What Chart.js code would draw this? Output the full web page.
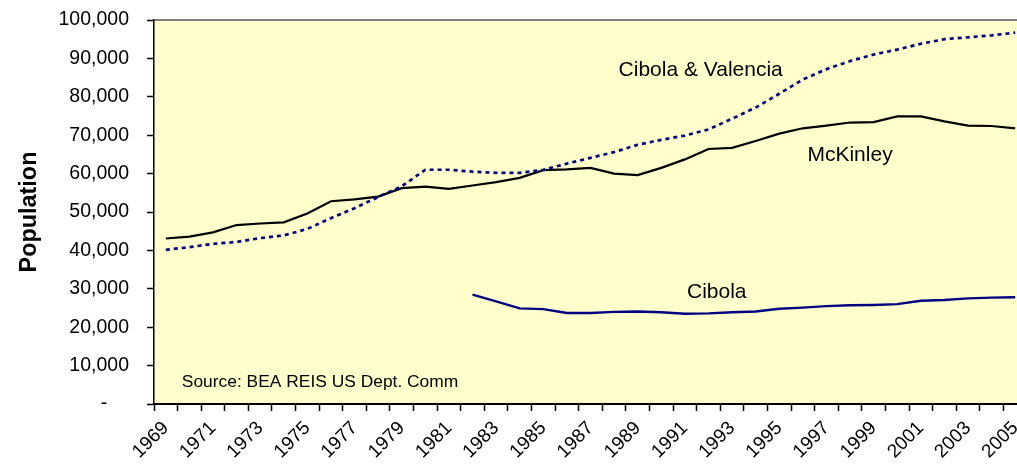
<!DOCTYPE html>
<html lang="en">
<head>
    <meta charset="UTF-8">
    <title>Population</title>
    <script src="https://cdn.jsdelivr.net/npm/chart.js"></script>
    <style>
        * {
            margin: 0;
            padding: 0;
            box-sizing: border-box;
        }
        body {
            background-color: #ffffff;
            overflow: hidden;
            width: 1017px;
            height: 474px;
        }
        .chart-container {
            position: relative;
            width: 1032px;
            height: 474px;
        }
    </style>
</head>
<body>
    <div class="chart-container">
        <canvas id="popChart"></canvas>
    </div>

    <script>
        const years = ['1969', '1970', '1971', '1972', '1973', '1974', '1975', '1976', '1977', '1978',
            '1979', '1980', '1981', '1982', '1983', '1984', '1985', '1986', '1987', '1988',
            '1989', '1990', '1991', '1992', '1993', '1994', '1995', '1996', '1997', '1998',
            '1999', '2000', '2001', '2002', '2003', '2004', '2005'];

        const mckinley = [43100, 43600, 44700, 46600, 47000, 47300, 49600, 52800, 53300, 54000,
            56200, 56600, 56000, 56900, 57800, 58900, 60900, 61100, 61500, 60000,
            59600, 61500, 63700, 66400, 66700, 68500, 70400, 71800, 72500, 73300,
            73400, 74900, 74900, 73600, 72500, 72400, 71800];

        const cibolaValencia = [40150, 40850, 41700, 42200, 43200, 43900, 45600, 48400, 51000, 53900,
            56700, 61000, 61000, 60500, 60200, 60200, 61000, 62600, 64100, 65600,
            67500, 68800, 69900, 71500, 74300, 77200, 80800, 84500, 87200, 89300,
            91000, 92300, 93800, 95000, 95500, 96000, 96700];

        // Cibola only reported from 1982 on
        const cibola = [null, null, null, null, null, null, null, null, null, null,
            null, null, null, 28500, 26700, 24900, 24700, 23700, 23700, 24000,
            24100, 23900, 23500, 23600, 23900, 24100, 24800, 25100, 25500, 25700,
            25800, 26000, 26900, 27100, 27500, 27700, 27800];

        const yTicks = [0, 10000, 20000, 30000, 40000, 50000, 60000, 70000, 80000, 90000, 100000];

        // text labels placed in data coordinates (category index, value)
        const notes = [
            { text: 'Cibola & Valencia', at: [22.67, 86900], align: 'center', size: 21 },
            { text: 'McKinley', at: [29.0, 64800], align: 'center', size: 21 },
            { text: 'Cibola', at: [23.35, 29200], align: 'center', size: 21 },
            { text: 'Source: BEA REIS US Dept. Comm', at: [0.68, 5600], align: 'left', size: 17.4 }
        ];

        const FONT = 'Arial, "Liberation Sans", sans-serif';

        const plotArea = {
            id: 'plotArea',
            beforeDraw(chart) {
                const { ctx, chartArea: { left, top, right, bottom } } = chart;
                ctx.save();
                ctx.fillStyle = '#ffffcc';
                ctx.fillRect(left, top, right - left, bottom - top);
                ctx.strokeStyle = '#808080';
                ctx.lineWidth = 2;
                ctx.beginPath();
                ctx.moveTo(left, top);
                ctx.lineTo(right, top);
                ctx.stroke();
                ctx.restore();
            }
        };

        const noteText = {
            id: 'noteText',
            afterDatasetsDraw(chart) {
                const ctx = chart.ctx;
                const xs = chart.scales.x;
                const ys = chart.scales.y;
                ctx.save();
                ctx.fillStyle = '#000000';
                ctx.textBaseline = 'middle';
                notes.forEach(n => {
                    ctx.font = n.size + 'px ' + FONT;
                    ctx.textAlign = n.align;
                    ctx.fillText(n.text, xs.getPixelForValue(n.at[0]), ys.getPixelForValue(n.at[1]));
                });
                ctx.restore();
            }
        };

        const ctx = document.getElementById('popChart').getContext('2d');
        const popChart = new Chart(ctx, {
            type: 'line',
            data: {
                labels: years,
                datasets: [
                    {
                        label: 'Cibola & Valencia',
                        data: cibolaValencia,
                        borderColor: '#000080',
                        borderWidth: 2.7,
                        borderDash: [4, 4],
                        pointRadius: 0,
                        fill: false,
                        tension: 0
                    },
                    {
                        label: 'McKinley',
                        data: mckinley,
                        borderColor: '#000000',
                        borderWidth: 2.2,
                        pointRadius: 0,
                        fill: false,
                        tension: 0
                    },
                    {
                        label: 'Cibola',
                        data: cibola,
                        borderColor: '#000080',
                        borderWidth: 2.4,
                        pointRadius: 0,
                        fill: false,
                        tension: 0
                    }
                ]
            },
            options: {
                responsive: true,
                maintainAspectRatio: false,
                animation: false,
                layout: {
                    padding: { top: 20, right: 5, bottom: 0, left: 0 }
                },
                scales: {
                    x: {
                        type: 'category',
                        offset: true,
                        grid: {
                            offset: true,
                            drawOnChartArea: false,
                            drawTicks: true,
                            tickLength: 7,
                            tickColor: '#000000',
                            tickWidth: 1.5
                        },
                        border: { color: '#000000', width: 2 },
                        ticks: {
                            autoSkip: false,
                            minRotation: 45,
                            maxRotation: 45,
                            padding: 6,
                            color: '#000000',
                            font: { family: FONT, size: 19 },
                            callback: function(value, index) {
                                return index % 2 === 0 ? years[index] : '';
                            }
                        },
                        afterFit: function(scale) {
                            scale.height = 70;
                            scale.paddingLeft = 0;
                            scale.paddingRight = 0;
                        }
                    },
                    y: {
                        min: 0,
                        max: 100000,
                        afterBuildTicks: function(scale) {
                            scale.ticks = yTicks.map(v => ({ value: v }));
                        },
                        grid: {
                            drawOnChartArea: false,
                            drawTicks: true,
                            tickLength: 7,
                            tickColor: '#000000',
                            tickWidth: 1.5
                        },
                        border: { color: '#000000', width: 1.5 },
                        ticks: {
                            padding: 18,
                            color: '#000000',
                            font: { family: FONT, size: 19.5 },
                            callback: function(value) {
                                return value === 0 ? '-    ' : value.toLocaleString('en-US');
                            }
                        },
                        title: {
                            display: true,
                            text: 'Population',
                            color: '#000000',
                            font: { family: FONT, size: 23.4, weight: 'bold' },
                            padding: { top: 16, bottom: 0 }
                        },
                        afterFit: function(scale) {
                            scale.width = 154;
                            scale.paddingTop = 0;
                            scale.paddingBottom = 0;
                        }
                    }
                },
                plugins: {
                    legend: { display: false },
                    tooltip: { enabled: false }
                }
            },
            plugins: [plotArea, noteText]
        });
    </script>
</body>
</html>
